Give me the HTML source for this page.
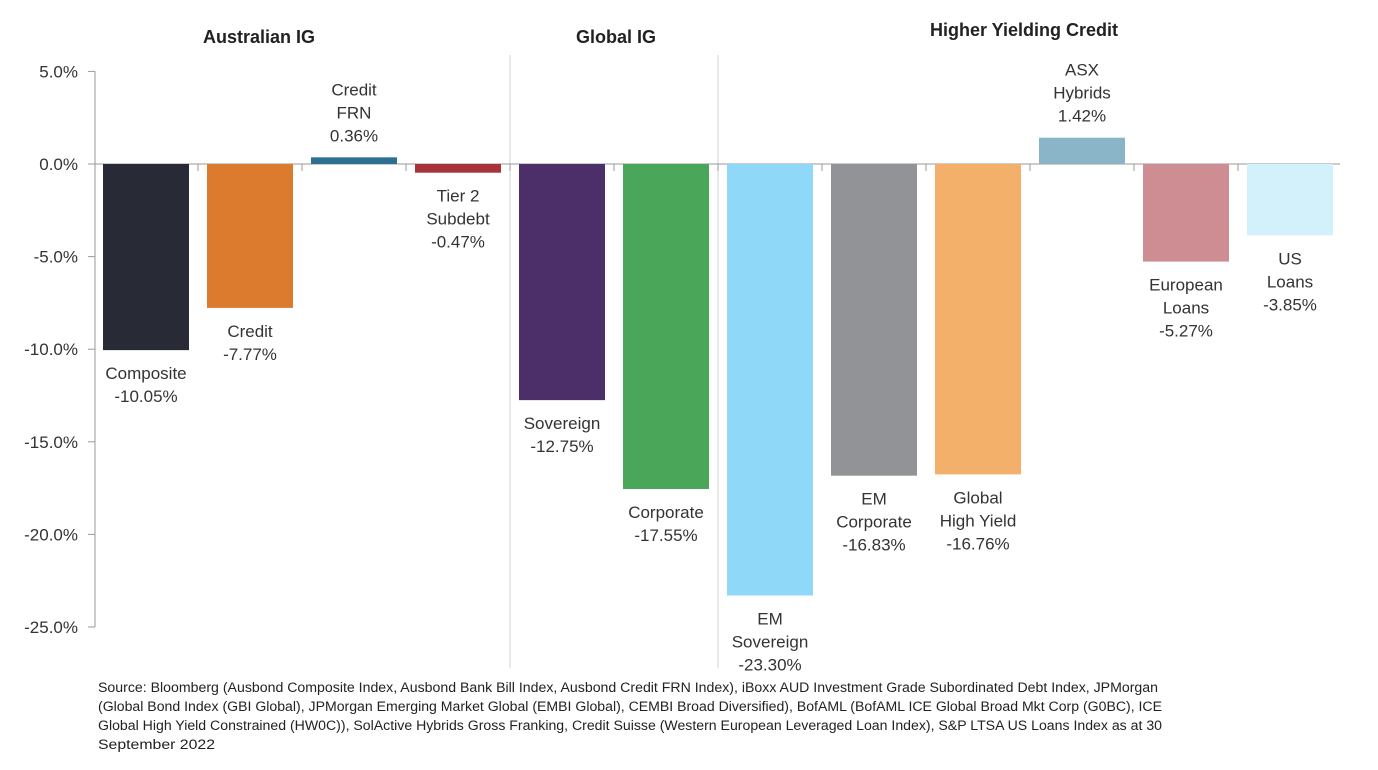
<!DOCTYPE html>
<html><head><meta charset="utf-8"><style>
body{margin:0;background:#fff}
svg{display:block;font-family:"Liberation Sans",Arial,sans-serif}
</style></head><body>
<svg id="chart" width="1378" height="770" viewBox="0 0 1378 770" xmlns="http://www.w3.org/2000/svg">
<g id="grid"></g>
<g id="bars"></g>
<g id="labels"></g>
<g font-weight="bold" font-size="18" fill="#222" text-anchor="middle">
<text x="259" y="43">Australian IG</text>
<text x="616" y="43">Global IG</text>
<text x="1024" y="36">Higher Yielding Credit</text>
</g>
<g font-size="13.5" fill="#222">
<text x="98" y="692" textLength="1060" lengthAdjust="spacingAndGlyphs">Source: Bloomberg (Ausbond Composite Index, Ausbond Bank Bill Index, Ausbond Credit FRN Index), iBoxx AUD Investment Grade Subordinated Debt Index, JPMorgan</text>
<text x="98" y="711" textLength="1064" lengthAdjust="spacingAndGlyphs">(Global Bond Index (GBI Global), JPMorgan Emerging Market Global (EMBI Global), CEMBI Broad Diversified), BofAML (BofAML ICE Global Broad Mkt Corp (G0BC), ICE</text>
<text x="98" y="730" textLength="1064" lengthAdjust="spacingAndGlyphs">Global High Yield Constrained (HW0C)), SolActive Hybrids Gross Franking, Credit Suisse (Western European Leveraged Loan Index), S&amp;P LTSA US Loans Index as at 30</text>
<text x="98" y="749" textLength="117" lengthAdjust="spacingAndGlyphs">September 2022</text>
</g>
</svg>
<script>
const categories=[["Composite"],["Credit"],["Credit","FRN"],["Tier 2","Subdebt"],["Sovereign"],["Corporate"],["EM","Sovereign"],["EM","Corporate"],["Global","High Yield"],["ASX","Hybrids"],["European","Loans"],["US","Loans"]];
const values=[-10.05,-7.77,0.36,-0.47,-12.75,-17.55,-23.30,-16.83,-16.76,1.42,-5.27,-3.85];
const colors=["#282b35","#dc7b2e","#2e6f94","#a8323a","#4c2e68","#4aa75a","#8fd8f8","#929396","#f3b06a","#8ab5c8","#cd8d92","#d2f1fb"];
const ticks=[5,0,-5,-10,-15,-20,-25];
const tickLabels=["5.0%","0.0%","-5.0%","-10.0%","-15.0%","-20.0%","-25.0%"];
const dividersAfter=[3,5];
const NS="http://www.w3.org/2000/svg";
const y0=164,pxPer=18.52,x0=95,step=104,bw=86;
const y=v=>y0-v*pxPer;
const xb=i=>x0+8+i*step;
function mk(t,a,p){const e=document.createElementNS(NS,t);for(const k in a)e.setAttribute(k,a[k]);p.appendChild(e);return e;}
const grid=document.getElementById('grid'),bars=document.getElementById('bars'),labels=document.getElementById('labels');
const axis=mk('line',{x1:x0,x2:x0,y1:y(5),y2:y(-25),stroke:'#999','stroke-width':1},grid);


ticks.forEach((t,i)=>{
 const tk=mk('line',{x1:x0-7,x2:x0,y1:y(t),y2:y(t),stroke:'#999'},grid);
 
 
 const tl=mk('text',{x:78,y:y(t)+6,'text-anchor':'end','font-size':17,fill:'#333'},grid);
 
 
 tl.textContent=tickLabels[i];
});
dividersAfter.forEach(d=>{
 const dx=xb(d)+bw+(step-bw)/2;
 const dl=mk('line',{x1:dx,x2:dx,y1:55,y2:668,stroke:'#d0d0d0'},grid);
 
 
});
values.forEach((v,i)=>{
 const r=mk('rect',{x:xb(i),width:bw,y:Math.min(y(v),y0),height:Math.abs(y(v)-y0),fill:colors[i]},bars);
 
 
 const cx=xb(i)+bw/2;
 const lines=categories[i].concat([v.toFixed(2)+'%']);
 const g=mk('text',{'text-anchor':'middle','font-size':17,fill:'#333'},labels);
 
 
 lines.forEach((ln,j)=>{
  let cy;
  if(v>=0) cy=y(v)-22-(lines.length-1-j)*23;
  else cy=y(v)+23+j*23;
  const ts=mk('tspan',{x:cx,y:cy+6},g);
  ts.textContent=ln;
 });
});
const zl=mk('line',{x1:x0,x2:1340,y1:y0,y2:y0,stroke:'#999'},grid);


for(let i=1;i<values.length;i++){
 const tx=xb(i)-(step-bw)/2;
 const t=mk('line',{x1:tx,x2:tx,y1:y0,y2:y0+7,stroke:'#999'},grid);
 
 
}
</script>
</body></html>
